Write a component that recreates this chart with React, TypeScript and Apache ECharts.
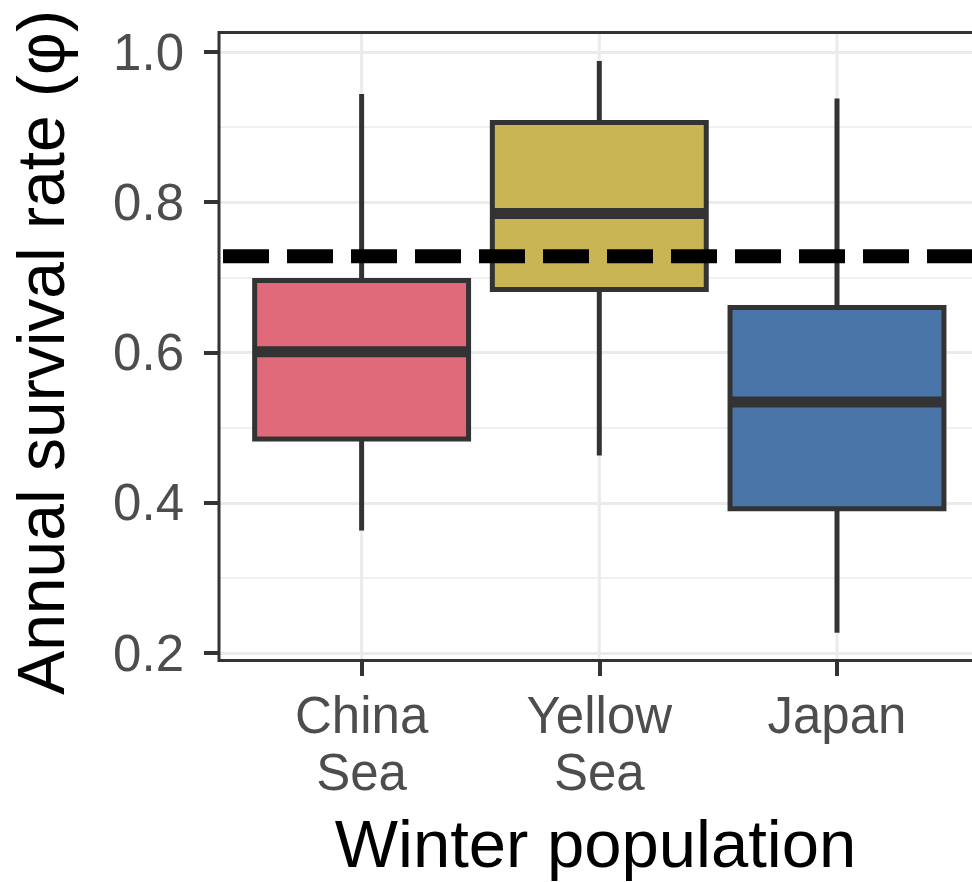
import React, { useEffect, useRef } from "react";
import * as echarts from "echarts";

// ---- data ----
const categories = ["China\nSea", "Yellow\nSea", "Japan"];
const whiskerLow = [0.363, 0.463, 0.227];
const lowerQuartile = [0.485, 0.684, 0.392];
const medians = [0.601, 0.785, 0.534];
const upperQuartile = [0.696, 0.906, 0.66];
const whiskerHigh = [0.944, 0.988, 0.938];
const boxColors = ["#E06A7A", "#C9B553", "#4A75A8"];
const referenceRate = 0.728;
const yTicks = [0.2, 0.4, 0.6, 0.8, 1.0];
const xLimits = [0.4, 3.6]; // discrete axis with 0.6 expansion
const xVisibleMax = 3.568; // the reference image is cropped on the right
const yPanelLimits = [0.19, 1.026];

const FONT = "'Liberation Sans', Arial, Helvetica, sans-serif";
const DARK = "#333333";

export default function App() {
  const ref = useRef<HTMLDivElement>(null);

  useEffect(() => {
    if (!ref.current) return;
    const chart = echarts.init(ref.current, null, { renderer: "svg" });

    const boxData = categories.map((_, i) => ({
      value: [i + 1, whiskerLow[i], lowerQuartile[i], medians[i], upperQuartile[i], whiskerHigh[i]],
      itemStyle: { color: boxColors[i] },
    }));

    const option: any = {
      animation: false,
      backgroundColor: "#ffffff",
      textStyle: { fontFamily: FONT },
      grid: { left: 219, top: 52, right: 0, height: 603, containLabel: false },
      xAxis: {
        type: "value",
        min: xLimits[0],
        max: xVisibleMax,
        offset: 8,
        axisLine: { show: false },
        splitLine: { show: false },
        axisTick: {
          show: true,
          customValues: [1, 2, 3],
          length: 15,
          lineStyle: { color: DARK, width: 4 },
        },
        axisLabel: {
          customValues: [1, 2, 3],
          formatter: (v: number) => categories[Math.round(v) - 1] ?? "",
          fontSize: 51,
          lineHeight: 57,
          color: "#4D4D4D",
          margin: 26,
          fontFamily: FONT,
        },
        name: "Winter population",
        nameLocation: "middle",
        nameGap: 149,
        nameTextStyle: { fontSize: 67, color: "#000000", fontFamily: FONT },
      },
      yAxis: {
        type: "value",
        min: yTicks[0],
        max: yTicks[yTicks.length - 1],
        interval: 0.2,
        axisLine: { show: false },
        axisTick: { show: true, length: 15, lineStyle: { color: DARK, width: 4 } },
        axisLabel: {
          formatter: (v: number) => v.toFixed(1),
          fontSize: 51,
          color: "#4D4D4D",
          margin: 35,
          fontFamily: FONT,
        },
        splitLine: { show: true, lineStyle: { color: "#EBEBEB", width: 3 } },
        minorTick: { show: false, splitNumber: 2 },
        minorSplitLine: { show: true, lineStyle: { color: "#F0F0F0", width: 2 } },
        name: "Annual survival rate (φ)",
        nameLocation: "middle",
        nameGap: 145,
        nameTextStyle: { fontSize: 66, color: "#000000", fontFamily: FONT },
      },
      series: [
        {
          // vertical major grid lines at the categories, spanning the panel
          type: "custom",
          silent: true,
          clip: false,
          z: 1,
          encode: { x: 0, y: [1, 2] },
          data: categories.map((_, i) => [i + 1, yPanelLimits[0], yPanelLimits[1]]),
          renderItem: (_p: any, api: any) => {
            const a = api.coord([api.value(0), api.value(2)]);
            const b = api.coord([api.value(0), api.value(1)]);
            return {
              type: "line",
              shape: { x1: a[0], y1: a[1], x2: b[0], y2: b[1] },
              style: { stroke: "#EBEBEB", lineWidth: 3 },
            };
          },
        },
        {
          // boxes
          type: "custom",
          clip: false,
          z: 3,
          encode: { x: 0, y: [1, 2, 3, 4, 5] },
          data: boxData,
          renderItem: (_p: any, api: any) => {
            const x = api.value(0);
            const pLo = api.coord([x, api.value(1)]);
            const pQ1 = api.coord([x, api.value(2)]);
            const pMed = api.coord([x, api.value(3)]);
            const pQ3 = api.coord([x, api.value(4)]);
            const pHi = api.coord([x, api.value(5)]);
            const half = api.size([0.9, 0])[0] / 2;
            const cx = pMed[0];
            const fill = api.visual("color");
            return {
              type: "group",
              children: [
                {
                  type: "line",
                  shape: { x1: cx, y1: pHi[1], x2: cx, y2: pQ3[1] },
                  style: { stroke: DARK, lineWidth: 5 },
                },
                {
                  type: "line",
                  shape: { x1: cx, y1: pQ1[1], x2: cx, y2: pLo[1] },
                  style: { stroke: DARK, lineWidth: 5 },
                },
                {
                  type: "rect",
                  shape: { x: cx - half, y: pQ3[1], width: half * 2, height: pQ1[1] - pQ3[1] },
                  style: { fill, stroke: DARK, lineWidth: 5 },
                },
                {
                  type: "line",
                  shape: { x1: cx - half, y1: pMed[1], x2: cx + half, y2: pMed[1] },
                  style: { stroke: DARK, lineWidth: 11 },
                },
              ],
            };
          },
        },
        {
          // reference dashed line
          type: "custom",
          silent: true,
          clip: false,
          z: 5,
          encode: { x: [0, 1], y: 2 },
          data: [[xLimits[0], xLimits[1], referenceRate]],
          renderItem: (_p: any, api: any) => {
            const a = api.coord([api.value(0), api.value(2)]);
            const b = api.coord([api.value(1), api.value(2)]);
            return {
              type: "line",
              shape: { x1: a[0] + 4, y1: a[1], x2: b[0], y2: b[1] },
              style: { stroke: "#000000", lineWidth: 14, lineDash: [46, 18] },
            };
          },
        },
        {
          // panel border
          type: "custom",
          silent: true,
          clip: false,
          z: 10,
          encode: { x: [0, 2], y: [1, 3] },
          data: [[xLimits[0], yPanelLimits[0], xLimits[1], yPanelLimits[1]]],
          renderItem: (_p: any, api: any) => {
            const a = api.coord([api.value(0), api.value(3)]);
            const b = api.coord([api.value(2), api.value(1)]);
            return {
              type: "rect",
              shape: { x: a[0], y: a[1], width: b[0] - a[0], height: b[1] - a[1] },
              style: { fill: "none", stroke: DARK, lineWidth: 3 },
            };
          },
        },
      ],
    };

    chart.setOption(option);
    return () => chart.dispose();
  }, []);

  return (
    <div
      ref={ref}
      style={{ position: "fixed", left: 0, top: 0, width: 972, height: 882, background: "#fff" }}
    />
  );
}
